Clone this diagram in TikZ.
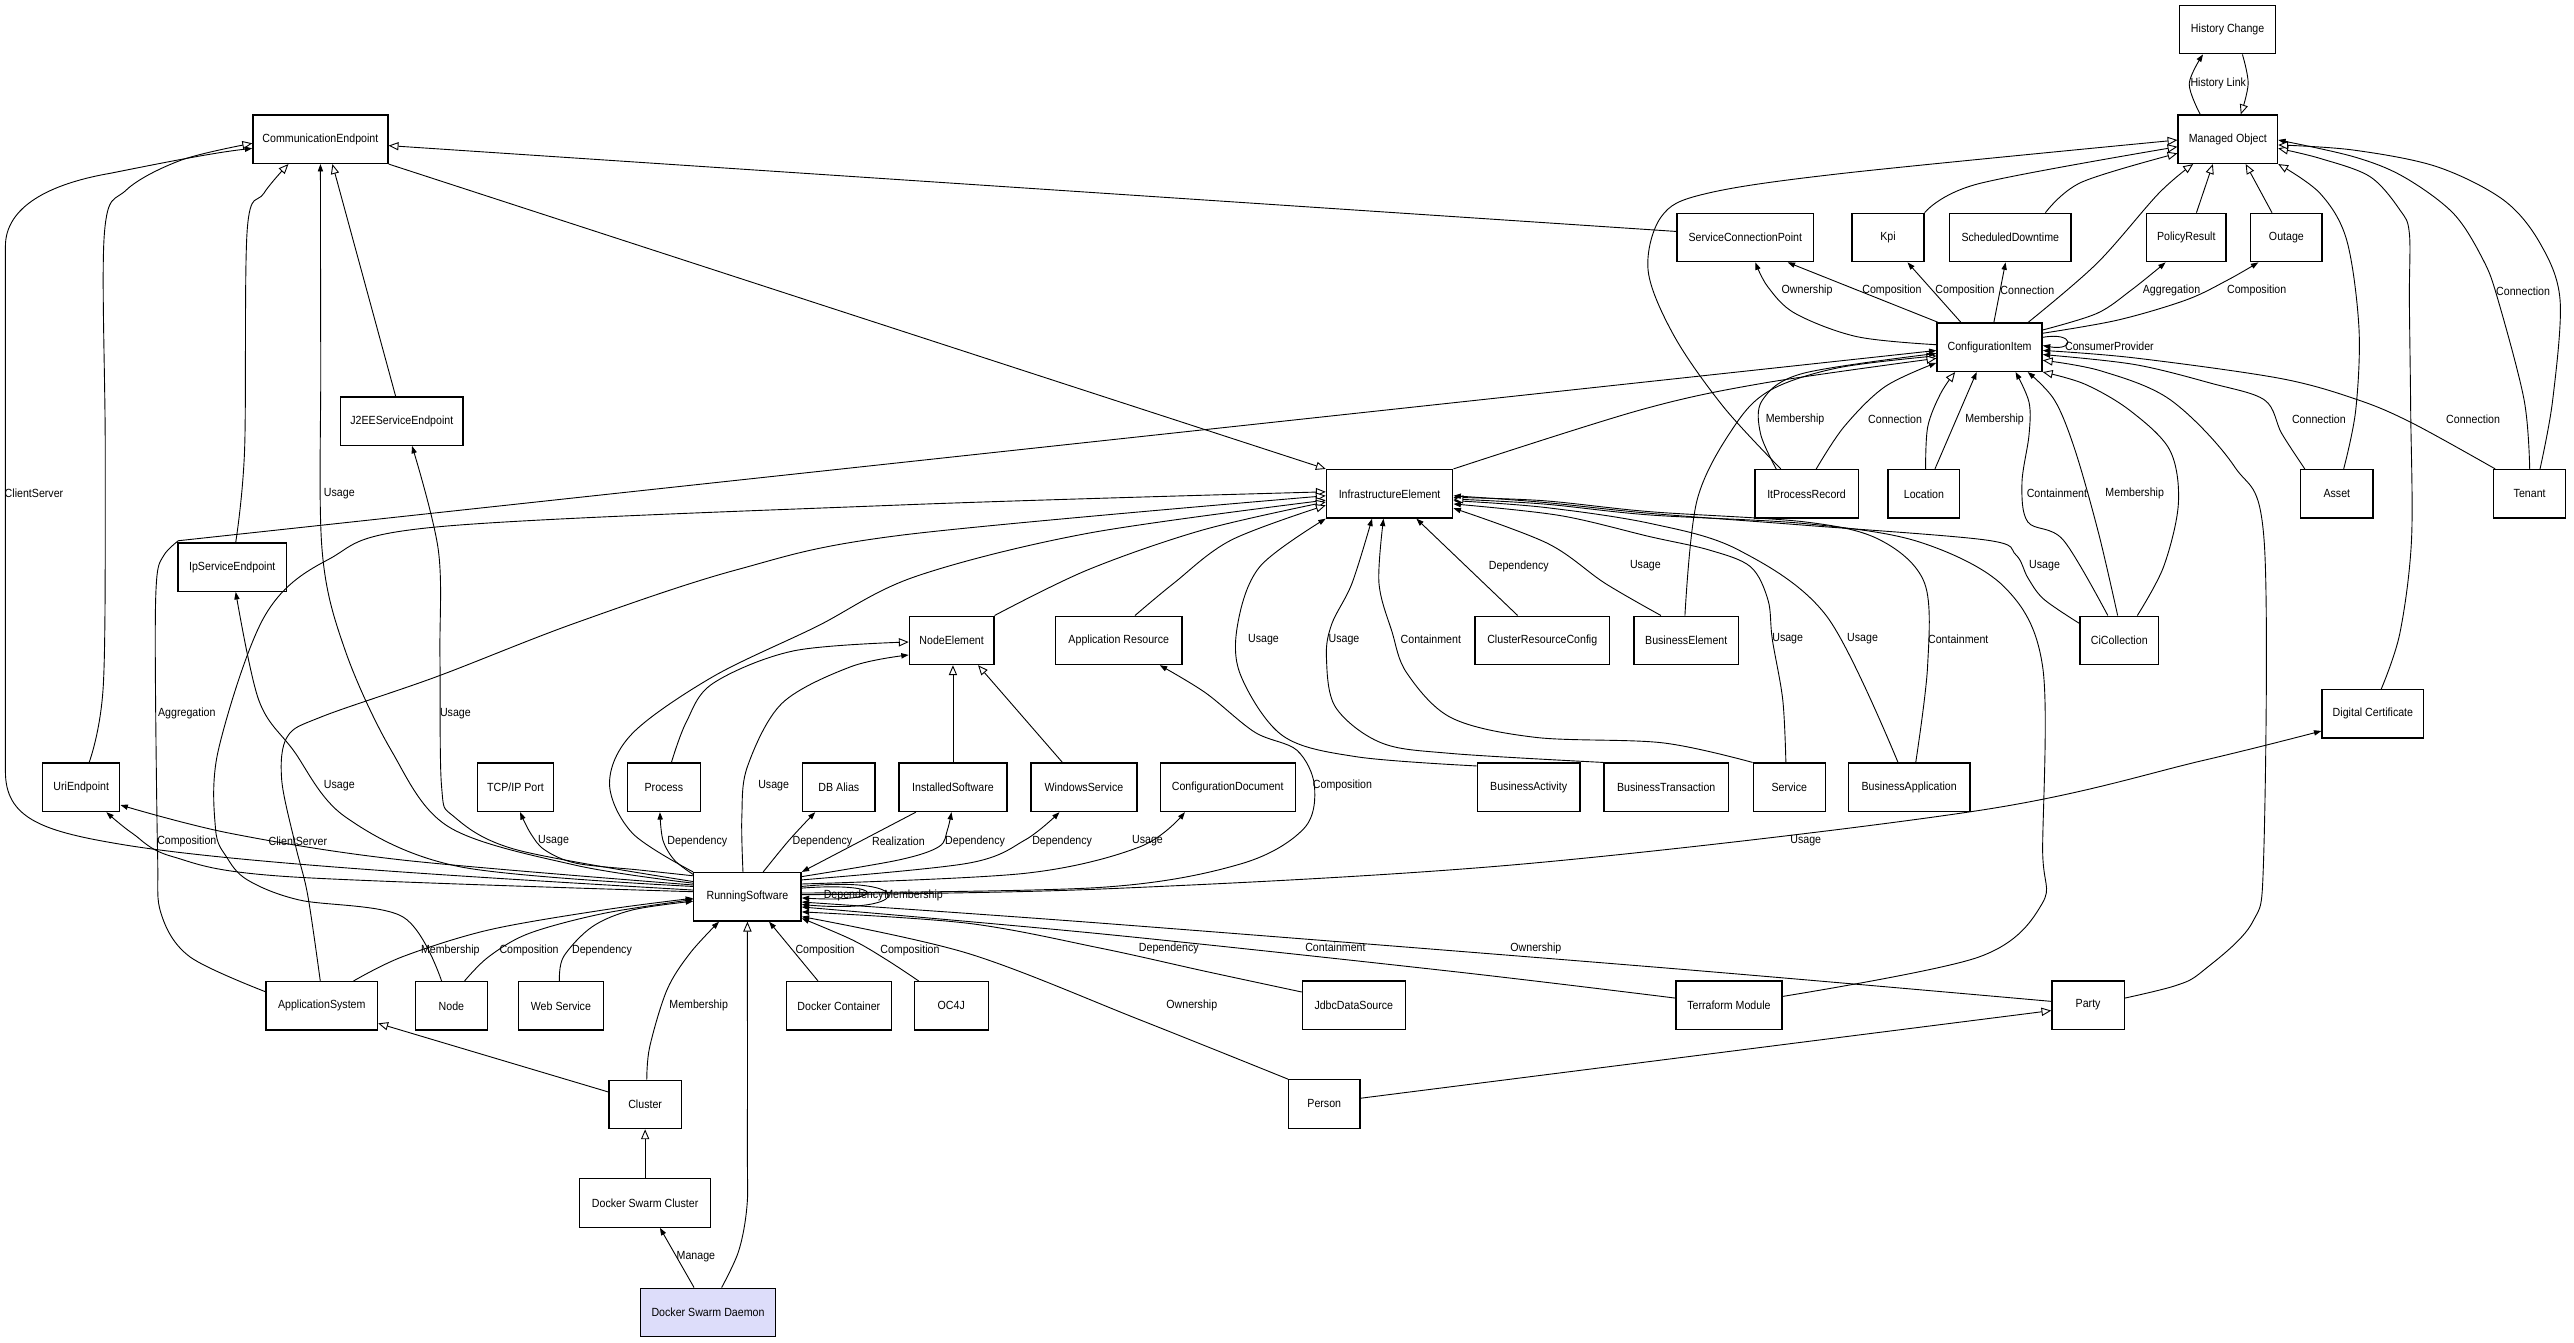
\documentclass[tikz,border=0pt]{standalone}
\usepackage{fontspec}
\setmainfont[FakeStretch=0.9]{Liberation Sans}
\usetikzlibrary{arrows.meta}
\definecolor{daemon}{RGB}{221,221,250}
\begin{document}
\begin{tikzpicture}[x=1pt,y=-1pt,
 box/.style={draw,line width=0.8pt,inner sep=0pt,minimum height=29.5pt,font=\fontsize{7.2}{8}\selectfont},
 gen/.style={line width=0.55pt,-{Triangle[length=6pt,width=5pt,fill=white]}},
 asc/.style={line width=0.55pt,-{Triangle[length=4.5pt,width=3.2pt]}},
 lab/.style={inner sep=0pt,font=\fontsize{7.2}{8}\selectfont},
 sm/.style={smooth,tension=0.55}]
\fill[white] (0,0) rectangle (1568,818);
\useasboundingbox (0,0) rectangle (1568,818);
% nodes
\node[box,minimum width=58.6pt] (hc) at (1357,18) {History Change};
\node[box,minimum width=60.6pt] (mo) at (1357.1,84.8) {Managed Object};
\node[box,minimum width=82.3pt] (ce) at (195.2,84.8) {CommunicationEndpoint};
\node[box,minimum width=83.2pt] (scp) at (1063.2,144.7) {ServiceConnectionPoint};
\node[box,minimum width=43.8pt] (kpi) at (1150.1,144.7) {Kpi};
\node[box,minimum width=74pt] (sd) at (1224.6,144.7) {ScheduledDowntime};
\node[box,minimum width=48.4pt] (pr) at (1331.8,144.7) {PolicyResult};
\node[box,minimum width=43.4pt] (outage) at (1392.8,144.7) {Outage};
\node[box,minimum width=64pt] (ci) at (1212,211.5) {ConfigurationItem};
\node[box,minimum width=74.4pt] (j2ee) at (244.8,256.5) {J2EEServiceEndpoint};
\node[box,minimum width=77pt] (ie) at (846.5,300.8) {InfrastructureElement};
\node[box,minimum width=63pt] (ipr) at (1100.5,300.8) {ItProcessRecord};
\node[box,minimum width=43.7pt] (loc) at (1172,300.8) {Location};
\node[box,minimum width=44pt] (asset) at (1423.5,300.8) {Asset};
\node[box,minimum width=44pt] (tenant) at (1541,300.8) {Tenant};
\node[box,minimum width=48pt] (cicol) at (1291,390.1) {CiCollection};
\node[box,minimum width=62pt] (dcert) at (1445.5,434.8) {Digital Certificate};
\node[box,minimum width=63.5pt] (be) at (1027.2,390.1) {BusinessElement};
\node[box,minimum width=82pt] (crc) at (939.5,390.1) {ClusterResourceConfig};
\node[box,minimum width=77pt] (ar) at (681.5,390.1) {Application Resource};
\node[box,minimum width=51.5pt] (ne) at (579.7,390.1) {NodeElement};
\node[box,minimum width=66pt] (ipse) at (141.5,345.5) {IpServiceEndpoint};
\node[box,minimum width=47pt] (uri) at (49.5,479.6) {UriEndpoint};
\node[box,minimum width=46pt] (tcp) at (314,479.6) {TCP/IP Port};
\node[box,minimum width=44.6pt] (proc) at (404.4,479.6) {Process};
\node[box,minimum width=44pt] (dba) at (511,479.6) {DB Alias};
\node[box,minimum width=65.7pt] (is) at (580.5,479.6) {InstalledSoftware};
\node[box,minimum width=64.5pt] (ws) at (660.3,479.6) {WindowsService};
\node[box,minimum width=82.3pt] (cd) at (747.9,479.6) {ConfigurationDocument};
\node[box,minimum width=65.4pt] (rs) at (455.3,546.3) {RunningSoftware};
\node[box,minimum width=62.5pt] (ba) at (931.2,479.6) {BusinessActivity};
\node[box,minimum width=76pt] (bt) at (1015,479.6) {BusinessTransaction};
\node[box,minimum width=44pt] (svc) at (1090,479.6) {Service};
\node[box,minimum width=74pt] (bapp) at (1163,479.6) {BusinessApplication};
\node[box,minimum width=62.6pt] (jdbc) at (824.7,612.3) {JdbcDataSource};
\node[box,minimum width=64.5pt] (tf) at (1053.2,612.3) {Terraform Module};
\node[box,minimum width=44pt] (party) at (1272,612.3) {Party};
\node[box,minimum width=43.5pt] (person) at (806.7,672.5) {Person};
\node[box,minimum width=68pt] (appsys) at (196,612.7) {ApplicationSystem};
\node[box,minimum width=44pt] (node) at (275,612.7) {Node};
\node[box,minimum width=51.5pt] (wsvc) at (341.7,612.7) {Web Service};
\node[box,minimum width=64pt] (dcon) at (511,612.7) {Docker Container};
\node[box,minimum width=45pt] (oc4j) at (579.5,612.7) {OC4J};
\node[box,minimum width=44pt] (cluster) at (393,672.8) {Cluster};
\node[box,minimum width=80pt] (dsc) at (393,732.8) {Docker Swarm Cluster};
\node[box,minimum width=82.6pt,fill=daemon] (dsd) at (431.3,799.5) {Docker Swarm Daemon};
% edges
\draw[asc] plot[sm] coordinates {([xshift=-16.8pt]mo.north) (1333.6,51) ([xshift=-15pt]hc.south)};
\draw[gen] plot[sm] coordinates {([xshift=9pt]hc.south) (1369.5,51) ([xshift=7.9pt]mo.north)};
\draw[gen] ([yshift=3.7pt]scp.west) -- ([yshift=-3.9pt]ce.east);
\draw[gen] (ce.south east) -- (ie.north west);
\draw[gen] ([xshift=-3.8pt]j2ee.north) -- ([xshift=7.3pt]ce.south);
\draw[asc] plot[sm] coordinates {([yshift=9.3pt]rs.west) (315.2,517.8) (276.6,497.5) (269,479.2) (268,400) (267,335) ([xshift=6.2pt]j2ee.south)};
\draw[asc] plot[sm] coordinates {([yshift=8.3pt]rs.west) (350.3,527) (273.2,503.6) (238.2,456.9) (210.2,396) (196.2,335) (195.4,220) (ce.south)};
\draw[gen] plot[sm] coordinates {([xshift=2.1pt]ipse.north) (149,274) (150.6,140) (160.7,117.8) ([xshift=-19.5pt]ce.south)};
\draw[asc] plot[sm] coordinates {([yshift=6.3pt]rs.west) (280.2,528) (210.2,497.5) (178.6,456.9) (157.6,426.4) ([xshift=2.1pt]ipse.south)};
\draw[gen] plot[sm] coordinates {([xshift=4.8pt]uri.north) (63,416.3) (64.1,274) (63.6,142.1) (77,115.7) (110.5,97.5) ([yshift=-2.5pt]ce.west)};
\draw[asc] ([yshift=4.1pt]rs.west) .. controls (300,535) and (140,526) .. (70,513.7)
  .. controls (25,506) and (3.3,498) .. (3.3,470) -- (3.3,150)
  .. controls (3.3,126) and (30,112) .. (67,105.6)
  .. controls (100,99) and (130,93) .. ([yshift=-5.6pt]ce.west);
\draw[asc] plot[sm] coordinates {([yshift=3.1pt]rs.west) (175.1,534) (105,521.8) (80.6,507.6) ([xshift=15.3pt]uri.south)};
\draw[asc] plot[sm] coordinates {([yshift=7.2pt]rs.west) (245.2,523.9) (140.1,507.6) ([yshift=-10.8pt]uri.east)};
\draw[asc] plot[sm] coordinates {([yshift=12.8pt]rs.west) (389.7,530) (351.2,525.9) (331.9,517.8) (323.2,507.6) ([xshift=2.8pt]tcp.south)};
\draw[asc] plot[sm] coordinates {([yshift=-1.5pt]rs.north west) (410.8,523.9) (403.8,511.7) ([xshift=-2.4pt]proc.south)};
\draw[asc] plot[sm] coordinates {([xshift=9.6pt]rs.north) (480.8,511.7) ([xshift=-14.4pt]dba.south)};
\draw[asc] ([xshift=-22.6pt]is.south) -- (rs.north east);
\draw[asc] plot[sm] coordinates {([yshift=12.3pt]rs.east) (547.3,523.9) (571.9,515.8) (577.1,505.6) ([xshift=-0.9pt]is.south)};
\draw[asc] plot[sm] coordinates {([yshift=10.3pt]rs.east) (589.4,525.9) (624.4,511.7) ([xshift=-14.9pt]ws.south)};
\draw[asc] plot[sm] coordinates {([yshift=7.8pt]rs.east) (624.4,532) (694.5,515.8) ([xshift=-26.1pt]cd.south)};
\draw[asc] plot[sm] coordinates {([yshift=2.3pt]rs.east) (670,540.6) (755.7,526.3) (794.3,504.7) (800.7,478.6) (790,457) (764.3,446) (734.3,422) ([xshift=25pt]ar.south)};
\draw[asc] plot[sm] coordinates {([yshift=1.3pt]rs.east) (670,541.6) (927,526.4) (1205,493.8) (1341.4,463.4) ([yshift=-10.5pt]dcert.west)};
\draw[asc] plot[sm] coordinates {([yshift=8pt]jdbc.west) (734.3,591.7) (670,577.5) (589.4,562.4) ([yshift=-9.2pt]rs.east)};
\draw[asc] plot[sm] coordinates {([yshift=4.3pt]tf.west) (884.2,591.7) (670,568.8) ([yshift=-6.2pt]rs.east)};
\draw[asc] plot[sm] coordinates {([yshift=2.3pt]party.west) (1012.7,589.5) (670,562.3) ([yshift=-3.2pt]rs.east)};
\draw[asc] plot[sm] coordinates {(person.north west) (694.5,621.3) (589.4,580.7) ([yshift=-12.1pt]rs.east)};
\draw[asc] plot[sm] coordinates {([xshift=-19.9pt]oc4j.north) (540.3,584.8) (519.3,572.6) ([yshift=-13.1pt]rs.east)};
\draw[asc] ([xshift=-12.7pt]dcon.north) -- ([xshift=13.2pt]rs.south);
\draw[asc] plot[sm] coordinates {([xshift=1pt]cluster.north) (395.8,637.6) (406.3,603) (420.3,580.7) ([xshift=-17.3pt]rs.south)};
\draw[gen] plot[sm] coordinates {([xshift=8.3pt]dsd.north) (450,762) (455,735) (455.3,700) (rs.south)};
\draw[asc] ([xshift=-8.5pt]dsd.north) -- ([xshift=9pt]dsc.south);
\draw[gen] (dsc.north) -- (cluster.south);
\draw[gen] ([yshift=7.6pt]cluster.west) -- ([yshift=-10.7pt]appsys.east);
\draw[asc] plot[sm] coordinates {([xshift=19.4pt]appsys.north) (245.2,582.8) (297.7,566.5) (367.8,554.3) ([yshift=-0.9pt]rs.west)};
\draw[asc] plot[sm] coordinates {([xshift=8pt]node.north) (297.7,582.8) (322.3,568.6) (367.8,556.4) ([yshift=-1.7pt]rs.west)};
\draw[asc] plot[sm] coordinates {([xshift=-0.9pt]wsvc.north) (343.3,582.8) (360.8,564.5) (385.3,554.3) ([yshift=-2.7pt]rs.west)};
\draw[gen] plot[sm] coordinates {([xshift=-6pt]node.north) (245.2,558.4) (182.1,548.2) (150.7,536) (138,522) (131.3,505) (133,457) (161,375.7) (199.7,341) (266,321) (549,307.6) ([yshift=1.2pt]ie.west)};
\draw[gen] plot[sm] coordinates {([xshift=-0.9pt]appsys.north) (187.4,545) (180,515) (171.6,475) (175,448.8) (196,436.6) (266,412.2) (350,379.7) (448.4,347.2) (549.2,326) ([yshift=-1.2pt]ie.west)};
\draw[gen] plot[sm] coordinates {(rs.north west) (385.3,507.6) (371.3,477.2) (385.3,446.7) (434.3,412.2) (497.4,381.7) (557.4,351.3) (662.5,324.9) ([yshift=-3.9pt]ie.west)};
\draw[gen] plot[sm] coordinates {(ne.north east) (662.5,347.2) (732.5,322.9) ([yshift=-5pt]ie.west)};
\draw[gen] plot[sm] coordinates {([xshift=9.9pt]ar.north) (715,355.3) (750,329) ([yshift=-7pt]ie.west)};
\draw[gen] (is.north) -- ([xshift=0.8pt]ne.south);
\draw[gen] ([xshift=-13.1pt]ws.north) -- ([xshift=16.1pt]ne.south);
\draw[gen] plot[sm] coordinates {([xshift=4.6pt]proc.north) (418,440) (434.3,416.3) (483.4,396.5) ([yshift=-1pt]ne.west)};
\draw[asc] plot[sm] coordinates {([xshift=-2.7pt]rs.north) (451.9,497.5) (455.3,467) (476.4,428.4) (518.4,406.1) ([yshift=-8.9pt]ne.west)};
\draw[asc] plot[sm] coordinates {([yshift=13pt]ba.west) (826.4,461) (781.4,448.2) (755.7,411.2) (754,380) (767.6,345) (ie.south west)};
\draw[asc] plot[sm] coordinates {(bt.north west) (884.2,459) (841.4,452.5) (813.5,430.7) (808,400) (811.3,380) (823.6,355.3) ([xshift=-10.7pt]ie.south)};
\draw[asc] plot[sm] coordinates {(svc.north west) (1012.7,452.5) (935.6,449.2) (884.2,437.3) (857,410) (848,385) (840,355) ([xshift=-3.7pt]ie.south)};
\draw[asc] ([xshift=-15pt]crc.north) -- ([xshift=16.3pt]ie.south);
\draw[asc] plot[sm] coordinates {([xshift=-15.4pt]be.north) (977.7,355.3) (942.7,331) ([yshift=-8.8pt]ie.east)};
\draw[asc] plot[sm] coordinates {([xshift=-2.1pt]svc.north) (1086,426.4) (1079.6,389.3) (1077,365.5) (1066.3,345.2) (1041,335) (1005,326.9) (950,314) ([yshift=-6.2pt]ie.east)};
\draw[asc] plot[sm] coordinates {([xshift=-6.8pt]bapp.north) (1113,375.7) (1059,335) (1005,318.8) (940,309) ([yshift=-4.2pt]ie.east)};
\draw[asc] plot[sm] coordinates {([xshift=4pt]bapp.north) (1174.2,406.1) (1172.4,355.3) (1145.4,329) (1100,318) (1005,311.7) (940,305) ([yshift=-2.2pt]ie.east)};
\draw[gen] plot[sm] coordinates {([yshift=5.3pt]tf.east) (1205.4,583) (1244,550.4) (1244.3,516.8) (1244.3,406.1) (1220.8,357.4) (1168.7,330) (1100,319) (1005,313.7) (940,307) ([yshift=-3.2pt]ie.east)};
\draw[asc] plot[sm] coordinates {([yshift=10.4pt]cicol.west) (1245,365) (1235.3,352) (1228,338) (1210,329) (1100,320) (1005,312.7) (940,306) ([yshift=-1.2pt]ie.east)};
\draw[gen] plot[sm] coordinates {([xshift=-0.8pt]be.north) (1033.8,304.6) (1056.3,259.9) (1078.6,237.6) (1120,224) ([yshift=-5.3pt]ci.west)};
\draw[gen] plot[sm] coordinates {(ie.north east) (999,249.8) (1073.6,233.5) ([yshift=-6.8pt]ci.west)};
\draw[asc] plot[sm] coordinates {([yshift=8.6pt]appsys.west) (115.6,582.8) (98.1,556.4) (96,520) (94.6,400) (95.5,352) (100,338) (108.6,329.4)} -- ([yshift=-2pt]ci.west);
\draw[gen] plot[sm] coordinates {([xshift=-15.7pt]ipr.north) (1050,248) (1020,205) (1004,165) (1012,132) (1039,118) (1122.7,105.6) ([yshift=-0.5pt]mo.west)};
\draw[asc] plot[sm] coordinates {([xshift=-18.5pt]ipr.north) (1072.4,264) (1073.6,243.7) (1098.5,227.4) ([yshift=-3.8pt]ci.west)};
\draw[asc] plot[sm] coordinates {([xshift=5.9pt]ipr.north) (1123.3,260) (1148.2,235.6) ([yshift=-9.5pt]ci.west)};
\draw[gen] plot[sm] coordinates {([xshift=1pt]loc.north) (1174.3,260) (1182,240) ([xshift=-21pt]ci.south)};
\draw[asc] ([xshift=6.7pt]loc.north) -- ([xshift=-7.9pt]ci.south);
\draw[asc] plot[sm] coordinates {([xshift=-7pt]cicol.north) (1256.9,329) (1235.3,318) (1231.7,294.4) (1236,265) (1236,245) ([xshift=15.8pt]ci.south)};
\draw[asc] plot[sm] coordinates {([xshift=-1pt]cicol.north) (1278.4,324.9) (1264,274.1) (1251.5,243.7) ([xshift=23.2pt]ci.south)};
\draw[gen] plot[sm] coordinates {([xshift=11pt]cicol.north) (1318,345.2) (1327,306.6) (1321.7,274.1) (1297.4,250) (1270,234) (ci.south east)};
\draw[gen] plot[sm] coordinates {([yshift=4.3pt]party.east) (1325.3,600.4) (1341.6,591.7) (1372,562) (1379,520) (1379.2,329) (1361.2,284.3) (1322.3,243.7) (1280,226) ([yshift=-8pt]ci.east)};
\draw[asc] plot[sm] coordinates {([xshift=-19.5pt]asset.north) (1389.9,264) (1379.5,243.7) (1347,233.5) (1300,222) ([yshift=-4.5pt]ci.east)};
\draw[asc] plot[sm] coordinates {([xshift=-21pt]tenant.north) (1470,258) (1436.7,243.7) (1388.9,230.5) (1300,218) ([yshift=-2pt]ci.east)};
\draw[asc] plot[sm] coordinates {([yshift=1.5pt]ci.west) (1131.2,205.1) (1093.5,190.9) (1076.8,174.6) ([xshift=6.1pt]scp.south)};
\draw[asc] ([xshift=1pt]ci.north west) -- ([xshift=25.8pt]scp.south);
\draw[asc] ([xshift=-17.5pt]ci.north) -- ([xshift=11.9pt]kpi.south);
\draw[asc] ([xshift=2.6pt]ci.north) -- ([xshift=-2.9pt]sd.south);
\draw[gen] plot[sm] coordinates {([xshift=23.5pt]ci.north) (1277.4,160.4) (1315,117.8) ([xshift=-21.1pt]mo.south)};
\draw[asc] plot[sm] coordinates {([yshift=10.5pt]ci.east) (1277.4,190.9) (1298.3,176.7) ([xshift=-12.6pt]pr.south)};
\draw[asc] plot[sm] coordinates {([yshift=8.5pt]ci.east) (1290,195) (1331.8,182.7) (1357,170.6) ([xshift=-17.1pt]outage.south)};
\draw[asc] ([yshift=6pt]ci.east) .. controls (1264,202) and (1264,214) .. ([yshift=1pt]ci.east);
\draw[gen] ([xshift=6.2pt]pr.north) -- ([xshift=-9.1pt]mo.south);
\draw[gen] ([xshift=-8.8pt]outage.north) -- ([xshift=10.9pt]mo.south);
\draw[gen] plot[sm] coordinates {(kpi.north east) (1205,112) ([yshift=-4.6pt]mo.west)};
\draw[gen] plot[sm] coordinates {([xshift=21.4pt]sd.north) (1268,111) ([yshift=-8.6pt]mo.west)};
\draw[gen] plot[sm] coordinates {([xshift=4.2pt]asset.north) (1435,250) (1437,200) (1429.5,146.2) (1413.3,117.8) (mo.south east)};
\draw[gen] plot[sm] coordinates {([xshift=5.1pt]dcert.north) (1461.9,385.8) (1469,329) (1468.5,250) (1467.7,182.7) (1467.7,142.1) (1462,128) (1443.7,107.6) (1413.3,96.5) ([yshift=-5.6pt]mo.east)};
\draw[asc] plot[sm] coordinates {(tenant.north) (1537.6,243.7) (1521.7,182.7) (1512.7,158.4) (1494.5,130) (1464,107.6) (1433.5,95.4) ([yshift=-0.5pt]mo.east)};
\draw[gen] plot[sm] coordinates {([xshift=6.3pt]tenant.north) (1555,243.7) (1559.5,182.7) (1547.3,148.2) (1525,121.8) (1484.3,101.5) (1433.5,91.4) ([yshift=-3.5pt]mo.east)};
\draw[gen] ([yshift=3.5pt]person.east) -- ([yshift=-3.3pt]party.west);
\draw[asc] ([yshift=5.3pt]rs.east) .. controls (541,537) and (541,550) .. ([yshift=-0.7pt]rs.east);
\draw[asc] ([yshift=6.3pt]rs.east) .. controls (558,533) and (558,557) .. ([yshift=-4.7pt]rs.east);
% labels
\node[lab] (l1) at (1351.3,50.6) {History Link};
\node[lab] (l6) at (277.4,434.5) {Usage};
\node[lab] (l7) at (206.7,300.5) {Usage};
\node[lab] (l9) at (206.7,478.8) {Usage};
\node[lab] (l11) at (20.7,300.5) {ClientServer};
\node[lab] (l12) at (113.8,512.3) {Composition};
\node[lab] (l13) at (181.5,512.3) {ClientServer};
\node[lab] (l14) at (337.2,512.3) {Usage};
\node[lab] (l15) at (424.8,512.3) {Dependency};
\node[lab] (l16) at (501,512.3) {Dependency};
\node[lab] (l17) at (547.3,512.3) {Realization};
\node[lab] (l18) at (594,512.3) {Dependency};
\node[lab] (l19) at (647,512.3) {Dependency};
\node[lab] (l20) at (699,512.3) {Usage};
\node[lab] (l21) at (817.8,478.6) {Composition};
\node[lab] (l22) at (1100,512.4) {Usage};
\node[lab] (l23) at (712,578) {Dependency};
\node[lab] (l24) at (813.5,577) {Containment};
\node[lab] (l25) at (935.6,578) {Ownership};
\node[lab] (l26) at (726,612.2) {Ownership};
\node[lab] (l27) at (554.3,578.7) {Composition};
\node[lab] (l28) at (502.6,578.7) {Composition};
\node[lab] (l29) at (425.6,612.2) {Membership};
\node[lab] (l31) at (423.9,765.7) {Manage};
\node[lab] (l34) at (274.3,578.7) {Membership};
\node[lab] (l35) at (322.3,578.7) {Composition};
\node[lab] (l36) at (366.7,578.7) {Dependency};
\node[lab] (l45) at (471.3,478.8) {Usage};
\node[lab] (l46) at (769.7,389.4) {Usage};
\node[lab] (l47) at (818.7,389.4) {Usage};
\node[lab] (l48) at (871.6,389.4) {Containment};
\node[lab] (l49) at (925.2,344.8) {Dependency};
\node[lab] (l50) at (1002.3,344.8) {Usage};
\node[lab] (l51) at (1089,389.3) {Usage};
\node[lab] (l52) at (1134.6,389.3) {Usage};
\node[lab] (l53) at (1192.9,389.3) {Containment};
\node[lab] (l55) at (1245.5,344.8) {Usage};
\node[lab] (l58) at (113.8,434.5) {Aggregation};
\node[lab] (l60) at (1093.5,255.3) {Membership};
\node[lab] (l61) at (1154.4,255.3) {Connection};
\node[lab] (l63) at (1215,255.3) {Membership};
\node[lab] (l64) at (1253,300.5) {Containment};
\node[lab] (l65) at (1300.4,300.5) {Membership};
\node[lab] (l68) at (1412.6,255.2) {Connection};
\node[lab] (l69) at (1506.5,255.2) {Connection};
\node[lab] (l70) at (1100.8,177) {Ownership};
\node[lab] (l71) at (1152.5,177) {Composition};
\node[lab] (l72) at (1197,177) {Composition};
\node[lab] (l73) at (1235,177) {Connection};
\node[lab] (l75) at (1322.8,177) {Aggregation};
\node[lab] (l76) at (1374.7,177) {Composition};
\node[lab] (l77) at (1285,211.2) {ConsumerProvider};
\node[lab] (l84) at (1537,177.3) {Connection};
\node[lab] (lrs1) at (520,545.6) {Dependency};
\node[lab] (lrs2) at (556.5,545.6) {Membership};
\end{tikzpicture}
\end{document}
